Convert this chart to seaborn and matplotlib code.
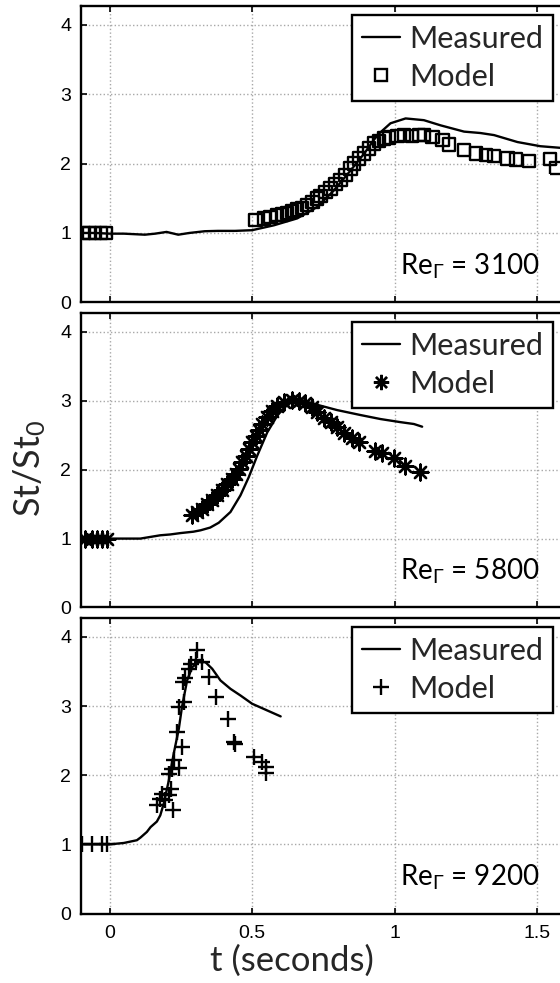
import matplotlib
matplotlib.use("Agg")
import matplotlib.pyplot as plt
import seaborn as sns
import pandas as pd
from matplotlib.lines import Line2D

# ---- Measured Stanton-number ratio (solid lines) ----
t_meas_3100 = [-0.1, -0.05, 0.0, 0.05, 0.124, 0.16, 0.2, 0.241, 0.28, 0.334, 0.38, 0.44,
               0.5, 0.576, 0.658, 0.728, 0.787, 0.845, 0.892, 0.939, 0.985, 1.038, 1.102,
               1.161, 1.243, 1.30, 1.348, 1.43, 1.51, 1.6]
st_meas_3100 = [1.0, 1.0, 0.99, 0.99, 0.975, 0.99, 1.015, 0.975, 1.0, 1.025, 1.03, 1.03,
                1.04, 1.11, 1.21, 1.375, 1.615, 1.90, 2.14, 2.41, 2.58, 2.65, 2.625,
                2.55, 2.46, 2.44, 2.41, 2.31, 2.25, 2.22]

t_meas_5800 = [-0.1, 0.0, 0.108, 0.178, 0.213, 0.249, 0.294, 0.319, 0.353, 0.383, 0.424,
               0.459, 0.488, 0.518, 0.553, 0.588, 0.623, 0.652, 0.681, 0.728, 0.798,
               0.880, 0.950, 1.020, 1.067, 1.096]
st_meas_5800 = [1.0, 1.0, 1.0, 1.048, 1.06, 1.08, 1.10, 1.12, 1.16, 1.23, 1.386,
                1.627, 1.89, 2.205, 2.542, 2.783, 2.952, 3.024, 3.0, 2.942, 2.865,
                2.793, 2.735, 2.69, 2.663, 2.624]

t_meas_9200 = [-0.1, 0.0, 0.05, 0.096, 0.109, 0.131, 0.144, 0.166, 0.178, 0.190, 0.208,
               0.225, 0.243, 0.254, 0.272, 0.290, 0.313, 0.336, 0.360, 0.389, 0.424,
               0.459, 0.5, 0.553, 0.6]
st_meas_9200 = [1.0, 1.0, 1.02, 1.06, 1.10, 1.18, 1.25, 1.33, 1.42, 1.589, 1.926,
                2.311, 2.672, 2.986, 3.371, 3.564, 3.636, 3.636, 3.54, 3.371, 3.25,
                3.154, 3.034, 2.937, 2.851]

# ---- Model predictions (markers) ----
t_model_3100 = [-0.09, -0.07, -0.05, -0.03, -0.012, 0.512, 0.541, 0.564, 0.588, 0.605,
                0.623, 0.640, 0.658, 0.675, 0.693, 0.711, 0.728, 0.740, 0.757, 0.775,
                0.792, 0.810, 0.827, 0.845, 0.857, 0.874, 0.892, 0.909, 0.927, 0.944,
                0.962, 0.980, 1.009, 1.032, 1.061, 1.085, 1.102, 1.132, 1.167, 1.190,
                1.243, 1.284, 1.319, 1.348, 1.395, 1.424, 1.471, 1.544, 1.565]
st_model_3100 = [1.0, 1.0, 1.0, 1.0, 1.0, 1.183, 1.207, 1.231, 1.255, 1.269,
                 1.288, 1.317, 1.337, 1.361, 1.399, 1.447, 1.495, 1.529, 1.591, 1.639,
                 1.702, 1.760, 1.832, 1.928, 2.000, 2.072, 2.144, 2.216, 2.288, 2.327,
                 2.361, 2.375, 2.394, 2.409, 2.394, 2.409, 2.409, 2.385, 2.337, 2.274,
                 2.192, 2.144, 2.120, 2.106, 2.072, 2.058, 2.038, 2.065, 1.935]

t_model_5800 = [-0.085, -0.062, -0.044, -0.027, -0.009, 0.290, 0.307, 0.325, 0.342,
                0.360, 0.377, 0.395, 0.412, 0.430, 0.442, 0.453, 0.465, 0.477, 0.488,
                0.500, 0.512, 0.523, 0.535, 0.553, 0.570, 0.588, 0.611, 0.640, 0.664,
                0.687, 0.710, 0.728, 0.751, 0.775, 0.798, 0.821, 0.850, 0.874, 0.932,
                0.956, 0.996, 1.037, 1.090]
st_model_5800 = [1.0, 1.0, 1.0, 1.0, 1.0, 1.337, 1.386, 1.434, 1.506,
                 1.554, 1.627, 1.699, 1.786, 1.867, 1.940, 2.012, 2.108, 2.205, 2.301,
                 2.398, 2.494, 2.576, 2.663, 2.759, 2.855, 2.928, 2.976, 3.010, 3.0,
                 2.961, 2.904, 2.831, 2.749, 2.687, 2.614, 2.528, 2.460, 2.398, 2.277,
                 2.239, 2.171, 2.060, 1.964]

t_model_9200 = [-0.095, -0.062, -0.027, -0.01, 0.166, 0.178, 0.185, 0.196, 0.208, 0.224,
                0.214, 0.208, 0.220, 0.225, 0.242, 0.254, 0.236, 0.242, 0.261, 0.259,
                0.266, 0.277, 0.284, 0.302, 0.306, 0.325, 0.348, 0.375, 0.415, 0.436,
                0.440, 0.505, 0.534, 0.549, 0.550]
st_model_9200 = [1.0, 1.0, 1.0, 1.0, 1.57, 1.66, 1.733, 1.637, 1.709, 1.49,
                 1.805, 2.022, 2.094, 2.215, 2.10, 2.41, 2.63, 2.99, 3.058, 3.35,
                 3.40, 3.54, 3.612, 3.66, 3.81, 3.636, 3.42, 3.13, 2.81, 2.48,
                 2.456, 2.27, 2.19, 2.12, 2.03]

reynolds = ["3100", "5800", "9200"]
x_ticks = [0, 0.5, 1, 1.5]
x_tick_labels = ["0", "0.5", "1", "1.5"]
y_ticks = [0, 1, 2, 3, 4]

sns.set_style("ticks")
plt.rcParams["font.family"] = ["Lato", "DejaVu Sans"]
plt.rcParams["mathtext.fontset"] = "custom"
plt.rcParams["mathtext.rm"] = "Lato"
plt.rcParams["mathtext.it"] = "Lato:italic"

fig = plt.figure(figsize=(5.6, 9.83), dpi=100)
positions = [
    [0.1446, 0.6924, 0.866, 0.3015],
    [0.1446, 0.3820, 0.866, 0.2993],
    [0.1446, 0.0707, 0.866, 0.3003],
]

meas = [(t_meas_3100, st_meas_3100), (t_meas_5800, st_meas_5800), (t_meas_9200, st_meas_9200)]
model = [(t_model_3100, st_model_3100), (t_model_5800, st_model_5800),
         (t_model_9200, st_model_9200)]
markers = ["s", (8, 2, 0), "+"]
marker_sizes = [80, 130, 140]
legend_ms = [8.5, 11, 12]

tick_font = dict(family=["Liberation Sans", "DejaVu Sans"], size=14)

for i, ax_pos in enumerate(positions):
    ax = fig.add_axes(ax_pos)
    dm = pd.DataFrame({"t": meas[i][0], "st": meas[i][1]})
    dmod = pd.DataFrame({"t": model[i][0], "st": model[i][1]})

    sns.lineplot(data=dm, x="t", y="st", ax=ax, color="black", lw=1.7,
                 estimator=None, sort=False, zorder=3)
    sns.scatterplot(data=dmod, x="t", y="st", ax=ax, marker=markers[i],
                    s=marker_sizes[i], color="black", linewidth=1.7, zorder=4)
    coll = ax.collections[-1]
    if i == 0:
        coll.set_facecolor("none")
    coll.set_edgecolor("black")
    coll.set_linewidth(1.7)

    ax.set_xlim(-0.1, 1.6)
    ax.set_ylim(0, 4.27)
    ax.set_xticks(x_ticks)
    ax.set_yticks(y_ticks)
    ax.set_yticklabels([str(v) for v in y_ticks], fontdict=tick_font)
    if i == 2:
        ax.set_xticklabels(x_tick_labels, fontdict=tick_font)
    else:
        ax.set_xticklabels([])
    ax.set_xlabel("")
    ax.set_ylabel("")

    ax.grid(True, color="#a8a8a8", linestyle=":", linewidth=1.0)
    ax.set_axisbelow(True)
    ax.tick_params(direction="in", length=4, width=1.2, top=True, right=False,
                   colors="black", pad=8)
    ax.tick_params(axis="y", pad=7)
    for side in ["left", "bottom", "top"]:
        ax.spines[side].set_visible(True)
        ax.spines[side].set_linewidth(1.7)
        ax.spines[side].set_color("black")
    ax.spines["right"].set_visible(False)

    if i == 0:
        handle_marker = Line2D([], [], ls="none", marker="s", ms=legend_ms[i],
                               mfc="none", mec="black", mew=1.7)
    else:
        handle_marker = Line2D([], [], ls="none", marker=markers[i],
                               ms=legend_ms[i], mec="black", mew=1.7, color="black")
    handle_line = Line2D([], [], color="black", lw=1.7)
    leg = ax.legend([handle_line, handle_marker], ["Measured", "Model"],
                    loc="upper right", bbox_to_anchor=(0.973, 0.97),
                    borderaxespad=0, fancybox=False, framealpha=1,
                    edgecolor="black", fontsize=22, handlelength=1.25,
                    handletextpad=0.3, labelspacing=0.33, borderpad=0.32)
    leg.get_frame().set_linewidth(1.7)

    ax.text(0.946, 0.095, "Re$_\\Gamma$ = " + reynolds[i], transform=ax.transAxes,
            ha="right", va="baseline", fontsize=20, color="black")

fig.text(30 / 560, 1 - 468 / 983, "St/St$_0$", rotation=90, ha="center",
         va="center", fontsize=26)
fig.text(292 / 560, 1 - 961 / 983, "t (seconds)", ha="center", va="center",
         fontsize=25)

fig.savefig("out.png", dpi=100)
